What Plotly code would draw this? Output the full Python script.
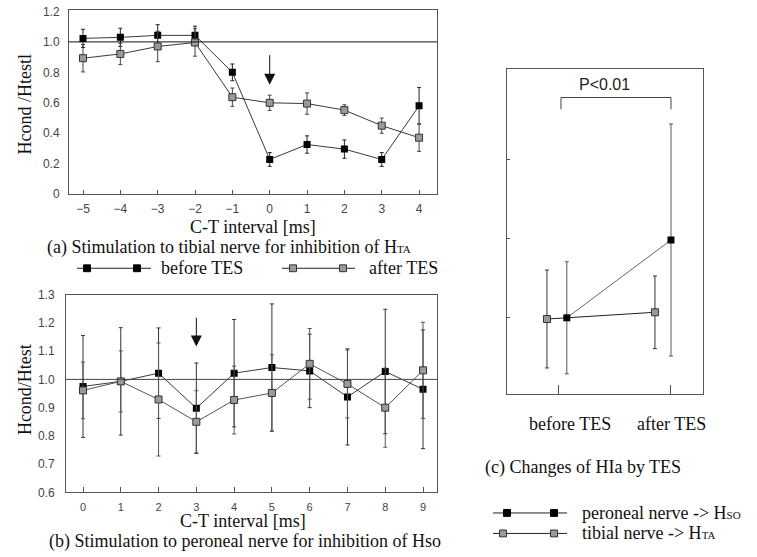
import plotly.graph_objects as go

W, H = 757, 557

# ---------------- data ----------------
ct_a = [-5, -4, -3, -2, -1, 0, 1, 2, 3, 4]
a_before = [1.023, 1.03, 1.043, 1.043, 0.80, 0.228, 0.326, 0.296, 0.228, 0.58]
a_before_err = [0.06, 0.06, 0.07, 0.06, 0.055, 0.045, 0.057, 0.06, 0.045, 0.12]
a_after = [0.893, 0.921, 0.97, 0.996, 0.637, 0.60, 0.595, 0.552, 0.45, 0.371]
a_after_err = [0.09, 0.07, 0.10, 0.09, 0.06, 0.05, 0.07, 0.035, 0.05, 0.09]

ct_b = [0, 1, 2, 3, 4, 5, 6, 7, 8, 9]
b_before = [0.975, 0.993, 1.022, 0.898, 1.022, 1.042, 1.03, 0.938, 1.028, 0.965]
b_before_err = [0.18, 0.19, 0.16, 0.16, 0.19, 0.225, 0.13, 0.17, 0.22, 0.21]
b_after = [0.961, 0.993, 0.929, 0.85, 0.927, 0.952, 1.055, 0.984, 0.90, 1.032]
b_after_err = [0.10, 0.108, 0.20, 0.11, 0.12, 0.135, 0.125, 0.12, 0.14, 0.17]

c_categories = ["before TES", "after TES"]
c_peroneal = [0.99, 1.975]
c_peroneal_err = [0.71, 1.47]
c_tibial = [0.975, 1.06]
c_tibial_err = [0.62, 0.46]

a_yticks = [0, 0.2, 0.4, 0.6, 0.8, 1.0, 1.2]
a_yticktext = ["0", "0.2", "0.4", "0.6", "0.8", "1.0", "1.2"]
b_yticks = [0.6, 0.7, 0.8, 0.9, 1.0, 1.1, 1.2, 1.3]
b_yticktext = ["0.6", "0.7", "0.8", "0.9", "1.0", "1.1", "1.2", "1.3"]

arrow_a = (0, 0.923, 0.718)   # x, tail y, tip y
arrow_b = (3, 1.223, 1.116)

# ---------------- style / layout ----------------
c_offset_peroneal = [0.07, 0.0]
c_offset_tibial = [-0.107, -0.143]

SERIF = "Liberation Serif"
SANS = "Liberation Sans"
LINE = "#3a3a3a"
FRAME = "#555555"
GRAYFILL = "#9a9a9a"


def px(x):
    return x / W


def py(y):
    return 1 - y / H


fig = go.Figure()

blk = dict(symbol="square", size=7, color="#000000", line=dict(width=0))
gry = dict(symbol="square", size=7, color=GRAYFILL, line=dict(width=1, color="#333333"))

# panel (a)
fig.add_trace(go.Scatter(x=ct_a, y=a_before, mode="lines+markers", marker=blk,
                         line=dict(color=LINE, width=1),
                         error_y=dict(type="data", array=a_before_err, color="#222", thickness=1, width=2),
                         xaxis="x", yaxis="y"))
fig.add_trace(go.Scatter(x=ct_a, y=a_after, mode="lines+markers", marker=gry,
                         line=dict(color=LINE, width=1),
                         error_y=dict(type="data", array=a_after_err, color="#444", thickness=1, width=2),
                         xaxis="x", yaxis="y"))
# panel (b)
fig.add_trace(go.Scatter(x=ct_b, y=b_before, mode="lines+markers", marker=blk,
                         line=dict(color=LINE, width=1),
                         error_y=dict(type="data", array=b_before_err, color="#333", thickness=1, width=2),
                         xaxis="x2", yaxis="y2"))
fig.add_trace(go.Scatter(x=ct_b, y=b_after, mode="lines+markers", marker=gry,
                         line=dict(color="#555", width=1),
                         error_y=dict(type="data", array=b_after_err, color="#555", thickness=1, width=2),
                         xaxis="x2", yaxis="y2"))
# panel (c)
xp = [i + o for i, o in zip(range(len(c_categories)), c_offset_peroneal)]
xt = [i + o for i, o in zip(range(len(c_categories)), c_offset_tibial)]
fig.add_trace(go.Scatter(x=xt, y=c_tibial, mode="lines+markers", marker=gry,
                         line=dict(color="#222", width=1),
                         error_y=dict(type="data", array=c_tibial_err, color="#333", thickness=1, width=2),
                         xaxis="x3", yaxis="y3"))
fig.add_trace(go.Scatter(x=xp, y=c_peroneal, mode="lines+markers", marker=blk,
                         line=dict(color="#666", width=1),
                         error_y=dict(type="data", array=c_peroneal_err, color="#555", thickness=1, width=2),
                         xaxis="x3", yaxis="y3"))

axis_common = dict(showline=True, linecolor=FRAME, linewidth=1, mirror=True,
                   showgrid=False, zeroline=False, ticks="inside", tickcolor=FRAME,
                   tickfont=dict(family=SANS, size=12, color="#444"))

layout = dict(
    width=W, height=H, autosize=False,
    margin=dict(l=0, r=0, t=0, b=0),
    paper_bgcolor="white", plot_bgcolor="white",
    showlegend=False,
    xaxis=dict(domain=[px(69), px(437)], range=[-5.375, 4.48], anchor="y",
               tickvals=ct_a, ticklen=4, ticklabelstandoff=3, **axis_common),
    yaxis=dict(domain=[py(192), py(3)], range=[0, 1.21], anchor="x",
               tickvals=a_yticks, ticktext=a_yticktext, ticklen=0, ticklabelstandoff=6, **axis_common),
    xaxis2=dict(domain=[px(66), px(437)], range=[-0.45, 9.37], anchor="y2",
                tickvals=ct_b, ticklen=5, ticklabelstandoff=4, **axis_common),
    yaxis2=dict(domain=[py(498), py(295)], range=[0.6, 1.3], anchor="x2",
                tickvals=b_yticks, ticktext=b_yticktext, ticklen=0, ticklabelstandoff=8, **axis_common),
    xaxis3=dict(domain=[px(507), px(703)], range=[-0.464, 1.286], anchor="y3",
                tickvals=[0, 1], showticklabels=False, ticklen=9, **axis_common),
    yaxis3=dict(domain=[py(397), py(64)], range=[0.025, 4.136], anchor="x3",
                tickvals=[1, 2, 3], showticklabels=False, ticklen=3, **axis_common),
)
fig.update_layout(**layout)
fig.update_xaxes(selector=dict(anchor="y2"), tickfont=dict(size=11))

shapes = []
# reference lines at 1.0
shapes.append(dict(type="line", xref="x domain", yref="y", x0=0, x1=1, y0=1.0, y1=1.0,
                   line=dict(color="#111", width=1)))
shapes.append(dict(type="line", xref="x2 domain", yref="y2", x0=0, x1=1, y0=1.0, y1=1.0,
                   line=dict(color="#444", width=1)))
# bracket in (c)
shapes.append(dict(type="path", xref="x3", yref="y3",
                   path="M 0.018 3.63 L 0.018 3.78 L 1.0 3.78 L 1.0 3.63",
                   line=dict(color="#444", width=1)))


def legend_sample(x0, x1, y, mx, fill, outline):
    shapes.append(dict(type="line", xref="paper", yref="paper",
                       x0=px(x0), x1=px(x1), y0=py(y), y1=py(y),
                       line=dict(color="#222", width=1)))
    for m in mx:
        shapes.append(dict(type="rect", xref="paper", yref="paper",
                           x0=px(m - 3.5), x1=px(m + 3.5), y0=py(y + 3.5), y1=py(y - 3.5),
                           fillcolor=fill, line=dict(color=outline, width=1)))


legend_sample(77, 151, 268, [87, 137], "#000", "#000")
legend_sample(282, 355, 268, [293, 343], GRAYFILL, "#333")
legend_sample(493, 567, 519, [507, 554], "#000", "#000")
legend_sample(493, 567, 540, [503, 554], GRAYFILL, "#333")

fig.update_layout(shapes=shapes)

ann = []


def text(x, y, s, size=18, anchor="left", family=SERIF, color="#111"):
    ann.append(dict(x=px(x), y=py(y), xref="paper", yref="paper", text=s, showarrow=False,
                    xanchor=anchor, yanchor="middle",
                    font=dict(family=family, size=size, color=color)))


small = lambda s: "<span style='font-size:11px'>%s</span>" % s

text(253, 226, "C-T interval [ms]", anchor="center")
text(45, 247, "(a) Stimulation to tibial nerve for inhibition of H" + small("TA"))
text(159, 268, "before TES")
text(367, 268, "after TES")
text(243, 527, "C-T interval [ms]", anchor="center")
text(47, 548.5, "(b) Stimulation to peroneal nerve for inhibition of Hso")
text(570, 428, "before TES", anchor="center")
text(671, 428, "after TES", anchor="center")
text(483, 472, "(c) Changes of HIa by TES")
text(580, 519, "peroneal nerve -&gt; H" + small("SO"))
text(580, 540, "tibial nerve -&gt; H" + small("TA"))

# y-axis titles
for yc, s in [(100, "Hcond /Htestl"), (393, "Hcond/Htest")]:
    ann.append(dict(x=px(25), y=py(yc), xref="paper", yref="paper", text=s, showarrow=False,
                    textangle=-90, xanchor="center", yanchor="middle",
                    font=dict(family=SERIF, size=18, color="#111")))

# P<0.01
ann.append(dict(x=0.41, y=3.95, xref="x3", yref="y3", text="P&lt;0.01", showarrow=False,
                xanchor="center", yanchor="middle", font=dict(family=SANS, size=16, color="#222")))

# arrows
for (ax_, y0, y1), xr, yr in [(arrow_a, "x", "y"), (arrow_b, "x2", "y2")]:
    ann.append(dict(x=ax_, y=y1, ax=ax_, ay=y0, xref=xr, yref=yr, axref=xr, ayref=yr,
                    text="", showarrow=True, arrowhead=2, arrowsize=2.2, arrowwidth=1,
                    arrowcolor="#111", standoff=0))

fig.update_layout(annotations=ann)

fig.write_html("out.html", config={"displayModeBar": False},
               post_script="document.body.style.margin='0px';")
